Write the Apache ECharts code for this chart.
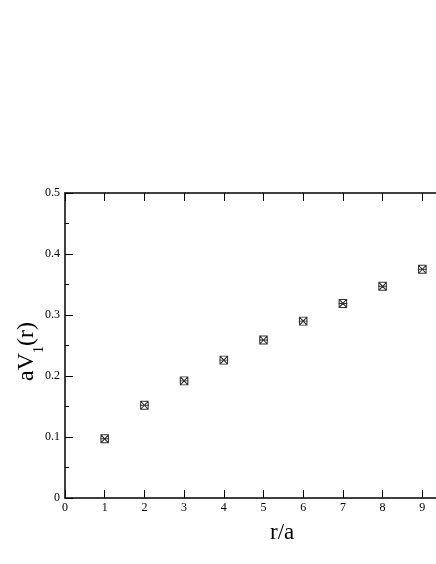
<!DOCTYPE html>
<html>
<head>
<meta charset="utf-8">
<script src="https://cdn.jsdelivr.net/npm/echarts@6/dist/echarts.min.js"></script>
<style>
  html, body { margin: 0; padding: 0; background: #fff; }
  #chart { width: 436px; height: 564px; }
</style>
</head>
<body>
<div id="chart"></div>
<script>
  // r/a and aV_1(r)
  var rValues = [1, 2, 3, 4, 5, 6, 7, 8, 9];
  var vValues = [0.097, 0.152, 0.192, 0.226, 0.259, 0.290, 0.319, 0.347, 0.375];
  var xTicks = [0, 1, 2, 3, 4, 5, 6, 7, 8, 9, 10];
  var yTicks = [0, 0.1, 0.2, 0.3, 0.4, 0.5];

  var serif = '"Liberation Serif", "DejaVu Serif", serif';

  var points = [];
  for (var i = 0; i < rValues.length; i++) {
    points.push([rValues[i], vValues[i]]);
  }

  var chart = echarts.init(document.getElementById('chart'));

  var option = {
    backgroundColor: '#fff',
    animation: false,
    grid: {
      left: 65,
      right: -26,   // runs past the right edge, x = 10 is off the picture
      top: 193,
      bottom: 66,
      outerBoundsMode: 'none'
    },
    xAxis: [{
      type: 'value',
      min: xTicks[0],
      max: xTicks[xTicks.length - 1],
      interval: 1,
      position: 'bottom',
      axisLine: { lineStyle: { color: '#000', width: 1.5 } },
      axisTick: { inside: true, length: 8, lineStyle: { color: '#000' } },
      axisLabel: {
        margin: 4,
        color: '#000',
        fontFamily: serif,
        fontSize: 12,
        formatter: function (v) { return v; }
      },
      splitLine: { show: false }
    }, {
      type: 'value',
      min: xTicks[0],
      max: xTicks[xTicks.length - 1],
      interval: 1,
      position: 'top',
      axisLine: { lineStyle: { color: '#000', width: 1.5 } },
      axisTick: { inside: true, length: 8, lineStyle: { color: '#000' } },
      axisLabel: { show: false },
      splitLine: { show: false }
    }],
    yAxis: [{
      type: 'value',
      min: yTicks[0],
      max: yTicks[yTicks.length - 1],
      interval: 0.1,
      axisLine: { show: true, lineStyle: { color: '#000', width: 1.5 } },
      axisTick: { show: true, inside: true, length: 8, lineStyle: { color: '#000' } },
      minorTick: { show: true, splitNumber: 2, length: 4, lineStyle: { color: '#000' } },
      axisLabel: {
        margin: 5,
        color: '#000',
        fontFamily: serif,
        fontSize: 12,
        formatter: function (v) { return v; }
      },
      splitLine: { show: false }
    }],
    graphic: [{
      type: 'text',
      left: 270,
      top: 521,
      style: {
        text: 'r/a',
        fill: '#000',
        font: '23px ' + serif
      }
    }, {
      type: 'text',
      x: 15,
      y: 381,
      rotation: Math.PI / 2,
      style: {
        text: '{n|aV}{s|1}{n|(r)}',
        fill: '#000',
        rich: {
          n: { fontSize: 24, fontFamily: serif, fill: '#000', verticalAlign: 'bottom' },
          s: { fontSize: 14, fontFamily: serif, fill: '#000', padding: [0, 0, -7, 0], verticalAlign: 'bottom' }
        }
      }
    }],
    series: [{
      type: 'scatter',
      data: points,
      symbol: 'path://M0,0 L10,0 L10,10 L0,10 Z M0,0 L10,10 M10,0 L0,10 M-1,5 L11,5',
      symbolSize: [9, 8],
      itemStyle: {
        color: 'none',
        borderColor: '#000',
        borderWidth: 1
      }
    }]
  };

  chart.setOption(option);
</script>
</body>
</html>
